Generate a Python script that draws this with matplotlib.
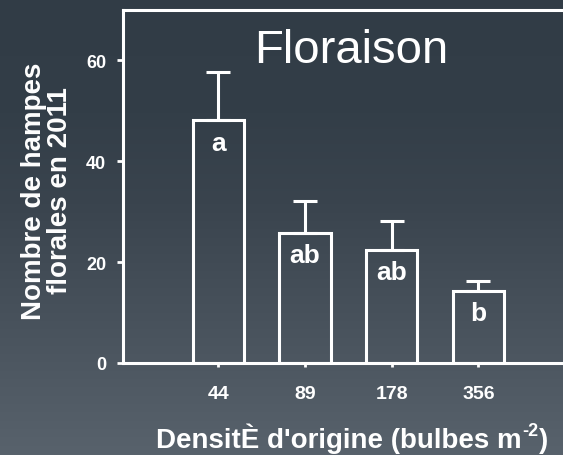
import numpy as np
import matplotlib
matplotlib.use("Agg")
import matplotlib.pyplot as plt
from matplotlib.colors import LinearSegmentedColormap

plt.rcParams['font.family'] = ['Liberation Sans', 'DejaVu Sans']
plt.rcParams['mathtext.fontset'] = 'custom'
plt.rcParams['mathtext.rm'] = 'Liberation Sans'
plt.rcParams['mathtext.bf'] = 'Liberation Sans:bold'
plt.rcParams['mathtext.it'] = 'Liberation Sans:italic'

# ---- data ----
categories = ['44', '89', '178', '356']
means = [48.1, 25.8, 22.4, 14.3]
errors = [9.7, 6.3, 5.7, 2.0]
letters = ['a', 'ab', 'ab', 'b']
title = 'Floraison'
xlabel_main = "DensitÈ d'origine (bulbes m"
xlabel_sup = "-2"
xlabel_end = ")"
ylabel = 'Nombre de hampes\nflorales en 2011'
yticks = [0, 20, 40, 60]

W, H = 563, 456
fig = plt.figure(figsize=(W / 100, H / 100), dpi=100)

# background gradient
bg = fig.add_axes([0, 0, 1, 1], zorder=-10)
cmap = LinearSegmentedColormap.from_list(
    'bg', [(0.0, '#58626c'), (0.55, '#3a444e'), (0.75, '#333e48'), (1.0, '#313c46')])
grad = np.linspace(0, 1, 256).reshape(-1, 1)
bg.imshow(grad, aspect='auto', cmap=cmap, origin='lower', extent=[0, 1, 0, 1])
bg.set_axis_off()

white = 'white'
ax = fig.add_axes([123 / W, 92 / H, (W - 123 + 2) / W, (364 - 11) / H])
ax.set_facecolor('none')

x = np.arange(1, len(categories) + 1)
ax.errorbar(x, means, yerr=[[0] * len(means), errors], fmt='none',
            ecolor=white, elinewidth=2.2, capsize=8.6, capthick=2.2, zorder=2)
ax.bar(x, means, width=0.59, facecolor='none', edgecolor=white, linewidth=2.2, zorder=3)

for xi, m, lab in zip(x, means, letters):
    ax.annotate(lab, (xi, m), xytext=(0, -21), textcoords='offset points',
                ha='center', va='baseline', color=white, fontsize=19, fontweight='bold')

ax.set_xlim(-0.101, 5.0)
ax.set_ylim(0, 70)
ax.set_xticks(x)
ax.set_xticklabels(categories)
ax.set_yticks(yticks)

for s in ['left', 'bottom', 'top']:
    ax.spines[s].set_color(white)
    ax.spines[s].set_linewidth(2.2)
ax.spines['right'].set_color('#6b747c')
ax.spines['right'].set_linewidth(1.0)

ax.tick_params(axis='y', colors=white, length=4, width=2, pad=8, labelsize=13)
ax.tick_params(axis='x', colors=white, length=3, width=2, pad=13, labelsize=14)
for t in ax.get_xticklabels() + ax.get_yticklabels():
    t.set_fontweight('bold')

fig.text(351 / W, 1 - 51 / H, title, ha='center', va='center',
         color=white, fontsize=34)

# x label: main text + raised superscript drawn as separate texts
fig.canvas.draw()
renderer = fig.canvas.get_renderer()
fs = 20
base_y = 8 / H
t1 = fig.text(0, base_y, xlabel_main, ha='left', va='baseline',
              color=white, fontsize=fs, fontweight='bold')
t2 = fig.text(0, base_y + 12 / H, xlabel_sup, ha='left', va='baseline',
              color=white, fontsize=13, fontweight='bold')
t3 = fig.text(0, base_y, xlabel_end, ha='left', va='baseline',
              color=white, fontsize=fs, fontweight='bold')
w1 = t1.get_window_extent(renderer).width
w2 = t2.get_window_extent(renderer).width
w3 = t3.get_window_extent(renderer).width
total = w1 + w2 + w3 + 1
x0 = 352 - total / 2
t1.set_x(x0 / W)
t2.set_x((x0 + w1 + 1) / W)
t3.set_x((x0 + w1 + 1 + w2) / W)

fig.text(47 / W, 1 - 191 / H, ylabel, ha='center', va='center', rotation=90,
         multialignment='center', color=white, fontsize=20, fontweight='bold',
         linespacing=0.98)

fig.savefig('out.png', dpi=100)
